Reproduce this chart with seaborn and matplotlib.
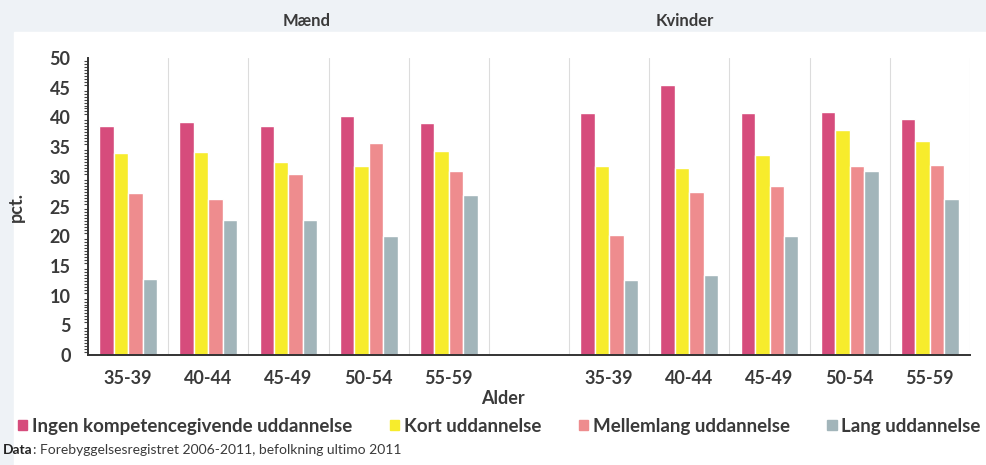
import matplotlib
matplotlib.use("Agg")
import matplotlib.pyplot as plt
from matplotlib.ticker import MultipleLocator, FixedLocator
from matplotlib.patches import Rectangle
import seaborn as sns
import pandas as pd

# Data (pct.)
ages = ['35-39', '40-44', '45-49', '50-54', '55-59']
education = ['Ingen kompetencegivende uddannelse', 'Kort uddannelse',
             'Mellemlang uddannelse', 'Lang uddannelse']

maend_ingen = [38.5, 39.3, 38.6, 40.3, 39.0]
maend_kort = [34.0, 34.2, 32.5, 31.8, 34.3]
maend_mellem = [27.3, 26.3, 30.5, 35.7, 31.0]
maend_lang = [12.8, 22.8, 22.8, 20.1, 27.0]

kvinder_ingen = [40.7, 45.5, 40.7, 40.9, 39.7]
kvinder_kort = [31.8, 31.5, 33.7, 37.8, 36.0]
kvinder_mellem = [20.2, 27.5, 28.4, 31.8, 32.0]
kvinder_lang = [12.7, 13.5, 20.0, 31.0, 26.3]

colors = ['#D64C7C', '#F7EC2C', '#EE8C8E', '#A2B5BA']
text_col = '#3A3A3A'

rows = []
for sex, series in [('M', [maend_ingen, maend_kort, maend_mellem, maend_lang]),
                    ('K', [kvinder_ingen, kvinder_kort, kvinder_mellem, kvinder_lang])]:
    for edu, vals in zip(education, series):
        for age, v in zip(ages, vals):
            rows.append({'slot': f'{sex} {age}', 'edu': edu, 'pct': v})
df = pd.DataFrame(rows)

order = [f'M {a}' for a in ages] + [' '] + [f'K {a}' for a in ages]

sns.set_style('white')
plt.rcParams['font.family'] = ['Lato', 'DejaVu Sans']

fig = plt.figure(figsize=(9.87, 4.65), dpi=100, facecolor='#EEF2F6')
fig.patches.append(Rectangle((14 / 987, 0), 1, (465 - 32) / 465,
                             transform=fig.transFigure, color='white', zorder=-1))
ax = fig.add_axes([88 / 987, 110 / 465, 882 / 987, 297 / 465])

sns.barplot(data=df, x='slot', y='pct', hue='edu', order=order,
            hue_order=education, palette=colors, width=0.72, gap=0,
            saturation=1, ax=ax, legend=False)

ax.set_xlim(-0.5, len(order) - 0.5)
ax.set_ylim(0, 50)

# x axis: ticks at slot boundaries, labels at slot centres
bounds = [i - 0.5 for i in range(len(order) + 1)]
ax.xaxis.set_major_locator(FixedLocator(bounds))
ax.xaxis.set_major_formatter(plt.NullFormatter())
ax.xaxis.set_minor_locator(FixedLocator(range(len(order))))
ax.xaxis.set_minor_formatter(plt.FixedFormatter(ages + [''] + ages))
ax.tick_params(axis='x', which='major', direction='out', length=5, width=1.2, color='#333333')
ax.tick_params(axis='x', which='minor', length=0, pad=11, labelsize=13, labelcolor=text_col)
for lbl in ax.get_xticklabels(minor=True):
    lbl.set_fontweight('bold')
ax.grid(axis='x', which='major', color='#DCDCDC', linewidth=0.8)
ax.set_axisbelow(True)

# y axis
ax.yaxis.set_major_locator(MultipleLocator(5))
ax.yaxis.set_minor_locator(MultipleLocator(0.5))
ax.tick_params(axis='y', which='major', direction='inout', length=9, width=1.2,
               color='#333333', pad=8, labelsize=13, labelcolor=text_col)
ax.tick_params(axis='y', which='minor', direction='out', length=3, width=0.8, color='#444444')
ax.tick_params(axis='y', which='minor', left=True)
for lbl in ax.get_yticklabels():
    lbl.set_fontweight('bold')

for s in ['top', 'right']:
    ax.spines[s].set_visible(False)
for s in ['left', 'bottom']:
    ax.spines[s].set_color('#333333')
    ax.spines[s].set_linewidth(1.4)

ax.set_xlabel('')
ax.set_ylabel('pct.', fontsize=13, fontweight='bold', color=text_col, labelpad=18)

# panel titles
fig.text(307 / 987, 1 - 21 / 465, 'Mænd', ha='center', va='center',
         fontsize=12, fontweight='bold', color=text_col)
fig.text(685 / 987, 1 - 21 / 465, 'Kvinder', ha='center', va='center',
         fontsize=12, fontweight='bold', color=text_col)
fig.text(503 / 987, 1 - 399 / 465, 'Alder', ha='center', va='center',
         fontsize=13, fontweight='bold', color=text_col)

# legend
handles = [Rectangle((0, 0), 1, 1, color=c) for c in colors]
leg = fig.legend(handles, education, loc='center left', bbox_to_anchor=(18 / 987, 1 - 426 / 465),
                 ncol=4, frameon=False, handlelength=0.5, handleheight=0.5,
                 handletextpad=0.25, columnspacing=2.0, borderaxespad=0, borderpad=0,
                 prop={'size': 13.5, 'weight': 'bold'})
for t in leg.get_texts():
    t.set_color(text_col)

# source
fig.text(3 / 987, 1 - 450 / 465, 'Data', ha='left', va='center',
         fontsize=10, fontweight='bold', color='#222222')
fig.text(33 / 987, 1 - 450 / 465, ': Forebyggelsesregistret 2006-2011, befolkning ultimo 2011',
         ha='left', va='center', fontsize=10, color=text_col)

fig.savefig('out.png', dpi=100, facecolor=fig.get_facecolor())
